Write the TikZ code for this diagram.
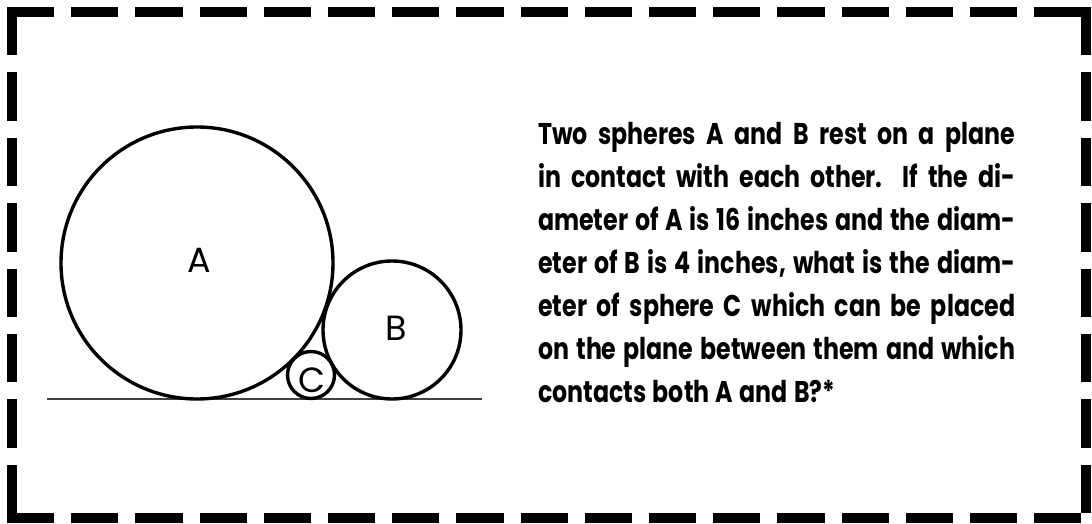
\documentclass[tikz,border=0pt]{standalone}
\usepackage{fontspec}
\setmainfont{Poppins}
\newfontfamily\condbold[FakeStretch=0.79]{Poppins}[BoldFont=*,UprightFont=* Bold]
\newfontfamily\labelfont{Poppins}
\begin{document}
\begin{tikzpicture}[x=1pt,y=-1pt,
  frame/.style={line width=10pt,line cap=rect},
  hdash/.style={frame,dash pattern=on 37.2pt off 27pt},
  vdash/.style={frame,dash pattern=on 38.4pt off 27pt},
  ball/.style={draw,line width=3.4pt},
  plane/.style={draw=black!75,line width=1.8pt},
  txt/.style={anchor=base west,inner sep=0pt,font=\condbold\fontsize{30}{43}\selectfont},
  lbl/.style={inner sep=0pt,font=\labelfont\fontsize{35}{35}\selectfont}]
\useasboundingbox (0,0) rectangle (1092,524);
\coordinate (tl) at (12,12);
\coordinate (tr) at (1086,12);
\coordinate (bl) at (12,518);
\coordinate (br) at (1086,518);
\draw[hdash] (tl) -- (tr);
\draw[hdash] (bl) -- (br);
\draw[vdash] (tl) -- (bl);
\draw[vdash] (tr) -- (br);
% plane
\coordinate (p1) at (47,399);
\coordinate (p2) at (482,399);
\draw[plane] (p1) -- (p2);
% spheres
\node[ball,circle,minimum size=272pt,inner sep=0pt] (A) at (197,263) {};
\node[ball,circle,minimum size=138pt,inner sep=0pt] (B) at (392,330) {};
\node[ball,circle,minimum size=47pt,inner sep=0pt] (C) at (311,375) {};
\node[lbl] (la) at (199,260) {A};
\node[lbl] (lb) at (396,328) {B};
\node[lbl] (lc) at (312,380) {C};
% text
\node[txt] (t1) at (538,144) {\makebox[477pt][s]{Two spheres A and B rest on a plane}};
\node[txt] (t2) at (538,187) {\makebox[477pt][s]{in contact with each other.\ \ If the di-}};
\node[txt] (t3) at (538,230) {\makebox[477pt][s]{ameter of A is 16 inches and the diam-}};
\node[txt] (t4) at (538,273) {\makebox[477pt][s]{eter of B is 4 inches, what is the diam-}};
\node[txt] (t5) at (538,316) {\makebox[477pt][s]{eter of sphere C which can be placed}};
\node[txt] (t6) at (538,359) {\makebox[477pt][s]{on the plane between them and which}};
\node[txt] (t7) at (538,402) {\makebox[297pt][s]{contacts both A and B?*}};
\end{tikzpicture}
\end{document}
